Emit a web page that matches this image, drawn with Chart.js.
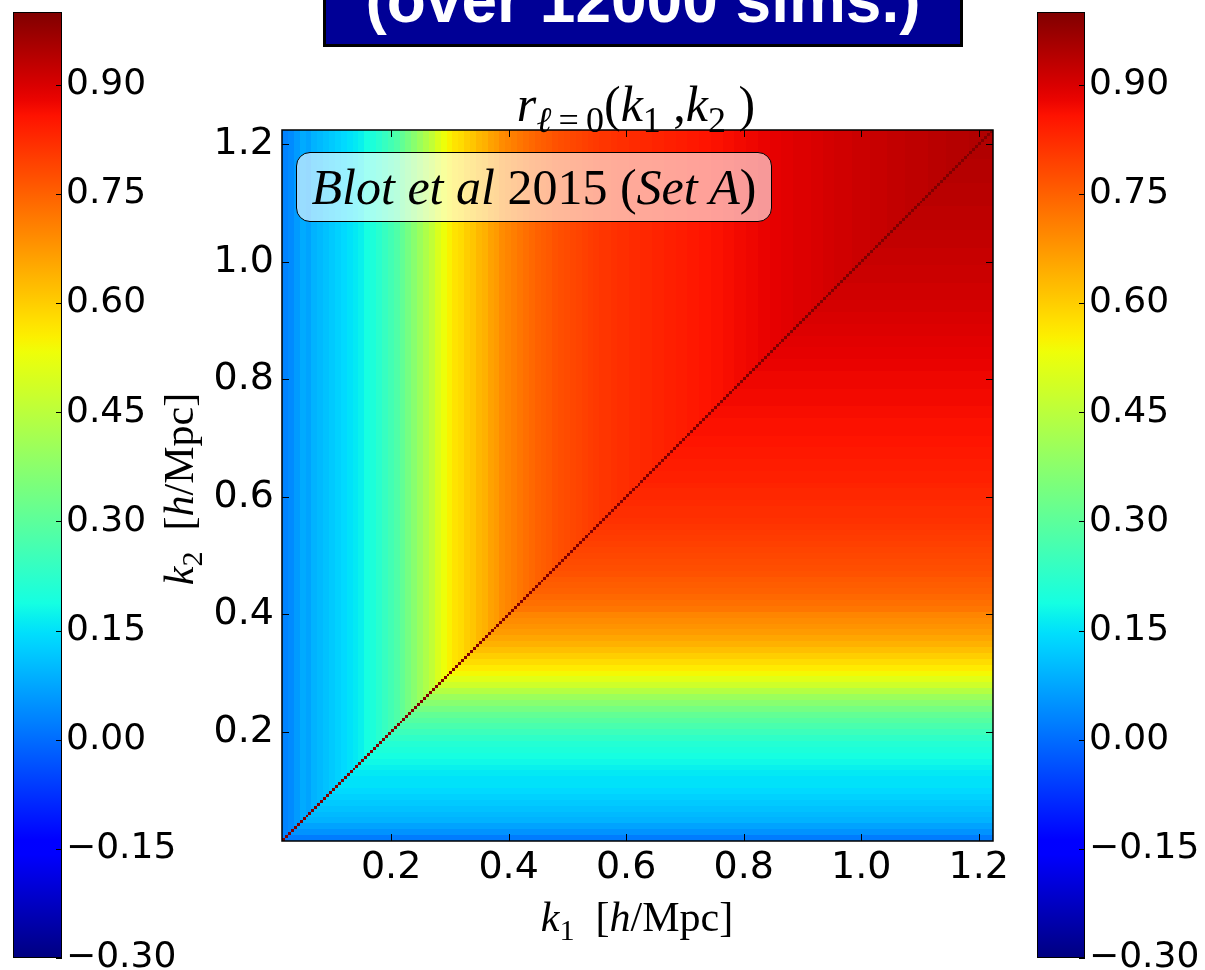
<!DOCTYPE html>
<html>
<head>
<meta charset="utf-8">
<script src="https://cdn.jsdelivr.net/npm/chart.js@4.4.1/dist/chart.umd.min.js"></script>
<style>
  html, body { margin: 0; padding: 0; background: #fff; }
  #page { position: relative; width: 1205px; height: 970px; overflow: hidden; }
  .wrap { position: absolute; top: 0; height: 970px; }
  .serif { position: absolute; font-family: "Liberation Serif", "Times New Roman", serif; color: #000; white-space: nowrap; }
  .sub { font-size: 0.72em; position: relative; top: 0.3em; }
  #banner {
    position: absolute; left: 323px; top: -30px; width: 640px; height: 77px;
    box-sizing: border-box; background: #000096; border: 3px solid #000;
  }
  #banner span {
    position: absolute; left: 0; right: 0; top: -5px; text-align: center;
    color: #fff; font: bold 64px/64px "Liberation Sans", Arial, sans-serif;
  }
  #plotTitle { left: 336px; width: 600px; top: 79px; text-align: center; font-size: 50px; line-height: 50px; }
  #setLabel {
    left: 296px; top: 152px; width: 476px; height: 70px; box-sizing: border-box;
    border: 1.5px solid #000; border-radius: 14px; background: rgba(255,255,255,0.6);
    display: flex; align-items: center; justify-content: center; font-size: 50px;
  }
  #xTitle { left: 387px; width: 500px; top: 896px; text-align: center; font-size: 42px; line-height: 42px; }
  #yTitle { left: -69px; width: 500px; top: 466px; text-align: center; font-size: 42px; line-height: 42px; transform: rotate(-90deg); }
</style>
</head>
<body>
<div id="page">
  <div class="wrap" style="left:0;width:1205px"><canvas id="main"></canvas></div>
  <div class="wrap" style="left:0;width:200px"><canvas id="cbLeft"></canvas></div>
  <div class="wrap" style="left:1024px;width:181px"><canvas id="cbRight"></canvas></div>

  <div id="banner"><span>(over 12000 sims.)</span></div>
  <div id="plotTitle" class="serif"><i>r</i><span class="sub"><i>ℓ</i>&thinsp;=&thinsp;0</span>(<i>k</i><span class="sub">1</span> ,<i>k</i><span class="sub">2</span> )</div>
  <div id="setLabel" class="serif"><span><i>Blot et al</i> 2015 (<i>Set A</i>)</span></div>
  <div id="xTitle" class="serif"><i>k</i><span class="sub">1</span>&nbsp;&nbsp;[<i>h</i>/Mpc]</div>
  <div id="yTitle" class="serif"><i>k</i><span class="sub">2</span>&nbsp;&nbsp;[<i>h</i>/Mpc]</div>
</div>

<script>
// ---------------- data ----------------
// k bins: width kStep starting at kFirst (h/Mpc)
const kFirst = 0.0143;
const kStep = 0.01;

// r(k1,k2) above the diagonal (k2 > k1), indexed by the k1 bin
const rByK1 = [
  0.03, 0.04, 0.06, 0.08, 0.07, 0.09, 0.10, 0.11, 0.12,
  0.13, 0.14, 0.15, 0.16, 0.17, 0.19, 0.20, 0.22, 0.24, 0.26,
  0.28, 0.31, 0.34, 0.37, 0.40, 0.43, 0.46, 0.50, 0.53, 0.55,
  0.57, 0.58, 0.60, 0.61, 0.63, 0.64, 0.66, 0.67, 0.69, 0.70,
  0.71, 0.72, 0.73, 0.74, 0.75, 0.755, 0.76, 0.77, 0.775, 0.78,
  0.785, 0.79, 0.795, 0.80, 0.805, 0.81, 0.81, 0.815, 0.82, 0.82,
  0.825, 0.825, 0.83, 0.83, 0.835, 0.835, 0.84, 0.84, 0.845, 0.845,
  0.85, 0.85, 0.855, 0.855, 0.86, 0.86, 0.865, 0.865, 0.87, 0.87,
  0.875, 0.875, 0.88, 0.88, 0.885, 0.885, 0.89, 0.89, 0.895, 0.895,
  0.895, 0.90, 0.90, 0.905, 0.905, 0.91, 0.91, 0.91, 0.915, 0.915,
  0.915, 0.92, 0.92, 0.92, 0.925, 0.925, 0.925, 0.93, 0.93, 0.93,
  0.93, 0.935, 0.935, 0.935, 0.94, 0.94, 0.94, 0.94, 0.945, 0.945, 0.945, 0.945
];

// r(k1,k2) below the diagonal (k1 > k2), indexed by the k2 bin
const rByK2 = [
  0.02, 0.05, 0.07, 0.09, 0.10, 0.11, 0.12, 0.13, 0.14,
  0.15, 0.15, 0.16, 0.17, 0.18, 0.19, 0.20, 0.21, 0.23, 0.25,
  0.27, 0.29, 0.31, 0.34, 0.37, 0.40, 0.44, 0.48, 0.51, 0.54,
  0.56, 0.58, 0.60, 0.62, 0.64, 0.655, 0.67, 0.68, 0.69, 0.70,
  0.72, 0.73, 0.74, 0.75, 0.755, 0.76, 0.77, 0.775, 0.78, 0.785,
  0.79, 0.795, 0.80, 0.805, 0.81, 0.815, 0.82, 0.82, 0.825, 0.83,
  0.83, 0.835, 0.84, 0.84, 0.845, 0.845, 0.85, 0.85, 0.855, 0.855,
  0.86, 0.86, 0.86, 0.865, 0.865, 0.87, 0.87, 0.87, 0.875, 0.875,
  0.875, 0.88, 0.88, 0.885, 0.885, 0.89, 0.89, 0.895, 0.895, 0.90,
  0.90, 0.905, 0.905, 0.91, 0.91, 0.91, 0.915, 0.915, 0.915, 0.92,
  0.92, 0.92, 0.925, 0.925, 0.925, 0.93, 0.93, 0.93, 0.93, 0.935,
  0.935, 0.935, 0.935, 0.94, 0.94, 0.94, 0.94, 0.945, 0.945, 0.945, 0.945, 0.95
];

const axisTicks = [0.2, 0.4, 0.6, 0.8, 1.0, 1.2];
const cbarMin = -0.30;
const cbarMax = 1.00;
const cbarTicks = [-0.30, -0.15, 0.00, 0.15, 0.30, 0.45, 0.60, 0.75, 0.90];

// ---------------- colormap (jet) ----------------
const JET = {
  r: [[0, 0], [0.35, 0], [0.66, 1], [0.89, 1], [1, 0.5]],
  g: [[0, 0], [0.125, 0], [0.375, 1], [0.64, 1], [0.91, 0], [1, 0]],
  b: [[0, 0.5], [0.11, 1], [0.34, 1], [0.65, 0], [1, 0]]
};
function seg(pts, t) {
  for (let i = 1; i < pts.length; i++) {
    if (t <= pts[i][0]) {
      const [x0, y0] = pts[i - 1], [x1, y1] = pts[i];
      return y0 + (y1 - y0) * (t - x0) / (x1 - x0);
    }
  }
  return pts[pts.length - 1][1];
}
function jet(t) {
  t = Math.min(1, Math.max(0, t));
  const c = k => Math.round(255 * seg(JET[k], t));
  return `rgb(${c('r')},${c('g')},${c('b')})`;
}
const colorFor = v => jet((v - cbarMin) / (cbarMax - cbarMin));

// ---------------- matrix cells ----------------
// drawn on half-width bins so the r = 1 diagonal stays thin
const kLast = kFirst + kStep * rByK1.length;
const cellW = kStep / 2;
const nCells = rByK1.length * 2;
const cells = [];
for (let a = 0; a < nCells; a++) {
  for (let b = 0; b < nCells; b++) {
    let v;
    if (a === b) v = 1;
    else if (b > a) v = rByK1[a >> 1];
    else v = rByK2[b >> 1];
    cells.push({ x: kFirst + (a + 0.5) * cellW, y: kFirst + (b + 0.5) * cellW, v });
  }
}

const heatmap = {
  id: 'heatmap',
  beforeDatasetsDraw(chart) {
    const { ctx, chartArea: ca, scales: { x, y } } = chart;
    // shared pixel edges so neighbouring cells never leave a seam
    const ex = [], ey = [];
    for (let i = 0; i <= nCells; i++) {
      ex.push(Math.round(x.getPixelForValue(kFirst + i * cellW)));
      ey.push(Math.round(y.getPixelForValue(kFirst + i * cellW)));
    }
    ctx.save();
    ctx.beginPath();
    ctx.rect(ca.left, ca.top, ca.right - ca.left, ca.bottom - ca.top);
    ctx.clip();
    chart.data.datasets[0].data.forEach(c => {
      const i = Math.floor((c.x - kFirst) / cellW);
      const j = Math.floor((c.y - kFirst) / cellW);
      ctx.fillStyle = colorFor(c.v);
      ctx.fillRect(ex[i], ey[j + 1], ex[i + 1] - ex[i], ey[j] - ey[j + 1]);
    });
    ctx.restore();
  }
};

// spines and inward ticks on all four sides
const frame = {
  id: 'frame',
  afterDatasetsDraw(chart) {
    const { ctx, chartArea: ca, scales: { x, y } } = chart;
    ctx.save();
    ctx.strokeStyle = '#000';
    ctx.lineWidth = 1;
    ctx.beginPath();
    axisTicks.forEach(v => {
      const px = Math.round(x.getPixelForValue(v)) + 0.5;
      const py = Math.round(y.getPixelForValue(v)) + 0.5;
      ctx.moveTo(px, ca.bottom); ctx.lineTo(px, ca.bottom - 7);
      ctx.moveTo(px, ca.top); ctx.lineTo(px, ca.top + 7);
      ctx.moveTo(ca.left, py); ctx.lineTo(ca.left + 7, py);
      ctx.moveTo(ca.right, py); ctx.lineTo(ca.right - 7, py);
    });
    ctx.stroke();
    ctx.lineWidth = 1.5;
    ctx.strokeRect(ca.left, ca.top, ca.right - ca.left, ca.bottom - ca.top);
    ctx.restore();
  }
};

const tickFont = { family: 'DejaVu Sans', size: 38 };

new Chart(document.getElementById('main'), {
  type: 'scatter',
  data: { datasets: [{ label: 'r', data: cells, pointRadius: 0, pointHoverRadius: 0 }] },
  options: {
    responsive: true, maintainAspectRatio: false, animation: false, events: [],
    layout: { padding: { left: 0, top: 130, right: 212, bottom: 0 } },
    plugins: { legend: { display: false }, tooltip: { enabled: false } },
    scales: {
      x: {
        type: 'linear', position: 'bottom', min: kFirst, max: kLast,
        grid: { display: false, drawTicks: false }, border: { display: false },
        afterBuildTicks: s => { s.ticks = axisTicks.map(v => ({ value: v })); },
        afterFit: s => { s.height = 129; },
        ticks: { font: tickFont, color: '#000', padding: 4, autoSkip: false, maxRotation: 0,
                 callback: v => v.toFixed(1) }
      },
      y: {
        type: 'linear', position: 'left', min: kFirst, max: kLast,
        grid: { display: false, drawTicks: false }, border: { display: false },
        afterBuildTicks: s => { s.ticks = axisTicks.map(v => ({ value: v })); },
        afterFit: s => { s.width = 282; },
        ticks: { font: tickFont, color: '#000', padding: 8, autoSkip: false,
                 callback: v => v.toFixed(1) }
      }
    }
  },
  plugins: [heatmap, frame]
});

// ---------------- colour bars ----------------
function jetGradient(chart) {
  const { chartArea, scales } = chart;
  if (!chartArea) return '#888';
  const g = chart.ctx.createLinearGradient(0, scales.y.getPixelForValue(cbarMin), 0, scales.y.getPixelForValue(cbarMax));
  for (let i = 0; i <= 64; i++) g.addColorStop(i / 64, jet(i / 64));
  return g;
}

const cbarTickMarks = {
  id: 'cbarTickMarks',
  afterDatasetsDraw(chart) {
    const { ctx, chartArea: ca, scales: { y } } = chart;
    ctx.save();
    ctx.strokeStyle = '#000';
    ctx.lineWidth = 1;
    ctx.beginPath();
    cbarTicks.forEach(v => {
      const py = Math.round(y.getPixelForValue(v)) + 0.5;
      ctx.moveTo(ca.right, py); ctx.lineTo(ca.right - 6, py);
    });
    ctx.stroke();
    ctx.strokeRect(ca.left + 0.5, ca.top + 0.5, ca.right - ca.left - 1, ca.bottom - ca.top - 1);
    ctx.restore();
  }
};

const fmtBar = v => (v < -1e-9 ? '\u2212' : '') + Math.abs(v).toFixed(2);

function colorbar(id, padLeft, axisWidth) {
  return new Chart(document.getElementById(id), {
    type: 'bar',
    data: {
      labels: [''],
      datasets: [{
        data: [[cbarMin, cbarMax]],
        backgroundColor: c => jetGradient(c.chart),
        borderWidth: 0, barPercentage: 1, categoryPercentage: 1
      }]
    },
    options: {
      responsive: true, maintainAspectRatio: false, animation: false, events: [],
      layout: { padding: { left: padLeft, top: 12, right: 0, bottom: 12 } },
      plugins: { legend: { display: false }, tooltip: { enabled: false } },
      scales: {
        x: { display: false },
        y: {
          position: 'right', min: cbarMin, max: cbarMax,
          grid: { display: false, drawTicks: false }, border: { display: false },
          afterBuildTicks: s => { s.ticks = cbarTicks.map(v => ({ value: v })); },
          afterFit: s => { s.width = axisWidth; s.paddingTop = 0; s.paddingBottom = 0; },
          ticks: { font: { family: 'DejaVu Sans', size: 36 }, color: '#000', padding: 4, autoSkip: false,
                   callback: v => fmtBar(v) }
        }
      }
    },
    plugins: [cbarTickMarks]
  });
}

colorbar('cbLeft', 13, 138);
colorbar('cbRight', 13, 120);
</script>
</body>
</html>
